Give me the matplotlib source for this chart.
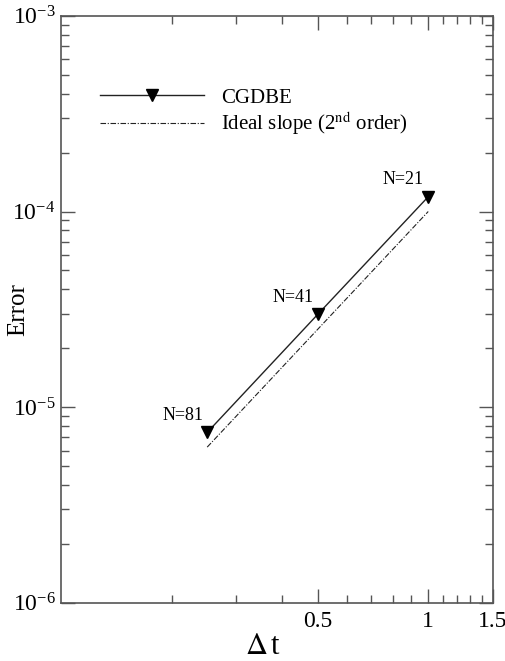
import matplotlib
matplotlib.use("Agg")
import matplotlib.pyplot as plt
import numpy as np
from matplotlib.ticker import FixedLocator, FixedFormatter, LogLocator, NullFormatter

# Convergence data for CGDBE
dt = [1.0, 0.5, 0.25]
error = [1.19e-4, 2.98e-5, 7.43e-6]
labels = ["N=21", "N=41", "N=81"]

# Reference 2nd-order slope
ideal_dt = [0.25, 1.0]
ideal_coef = 1.0e-4

x_major = [0.5, 1.0, 1.5]
x_major_labels = ["0.5", "1", "1.5"]
x_minor = [0.2, 0.3, 0.4, 0.6, 0.7, 0.8, 0.9, 1.1, 1.2, 1.3, 1.4]

plt.rcParams["font.family"] = ["Liberation Serif", "DejaVu Serif"]
plt.rcParams["mathtext.fontset"] = "stix"

fig = plt.figure(figsize=(5.05, 6.61), dpi=100)
ax = fig.add_axes([0.121, 0.088, 0.855, 0.888])

edge = "#555555"
ax.plot(dt, error, color="#222222", lw=1.0, marker="v", ms=8,
        markerfacecolor="black", markeredgecolor="black", label="CGDBE")
ideal_err = [ideal_coef * d ** 2 for d in ideal_dt]
ax.plot(ideal_dt, ideal_err, color="#222222", lw=0.8,
        dashes=[5, 1.5, 1, 1.5], label=r"Ideal slope (2$^{\rm nd}$ order)")

for x, y, s in zip(dt, error, labels):
    ax.annotate(s, (x, y), xytext=(-3, 6), textcoords="offset points",
                ha="right", va="bottom", fontsize=13)

ax.set_xscale("log")
ax.set_yscale("log")
ax.set_xlim(0.1, 1.5)
ax.set_ylim(1e-6, 1e-3)

ax.xaxis.set_major_locator(FixedLocator(x_major))
ax.xaxis.set_major_formatter(FixedFormatter(x_major_labels))
ax.xaxis.set_minor_locator(FixedLocator(x_minor))
ax.xaxis.set_minor_formatter(NullFormatter())
ax.yaxis.set_major_locator(LogLocator(base=10, numticks=10))
ax.yaxis.set_minor_locator(LogLocator(base=10, subs=np.arange(2, 10), numticks=10))

ax.tick_params(which="both", direction="in", top=True, right=True,
               color=edge, labelsize=17)
ax.tick_params(axis="x", pad=6)
ax.tick_params(axis="y", pad=4)
ax.tick_params(which="major", length=10, width=1)
ax.tick_params(which="minor", length=6, width=1)
for sp in ax.spines.values():
    sp.set_color(edge)
    sp.set_linewidth(1.2)

ax.set_xlabel(r"$\Delta\,$t", fontsize=22)
ax.xaxis.set_label_coords(0.468, -0.05)
ax.set_ylabel("Error", fontsize=18)
ax.yaxis.set_label_coords(-0.075, 0.5)

ax.legend(loc="upper left", bbox_to_anchor=(100 / 505, 1 - 88 / 661),
          bbox_transform=fig.transFigure, frameon=False, fontsize=15,
          borderpad=0, borderaxespad=0, handlelength=5.0,
          handletextpad=0.8, labelspacing=0.1)

fig.savefig("out.png", dpi=100)
